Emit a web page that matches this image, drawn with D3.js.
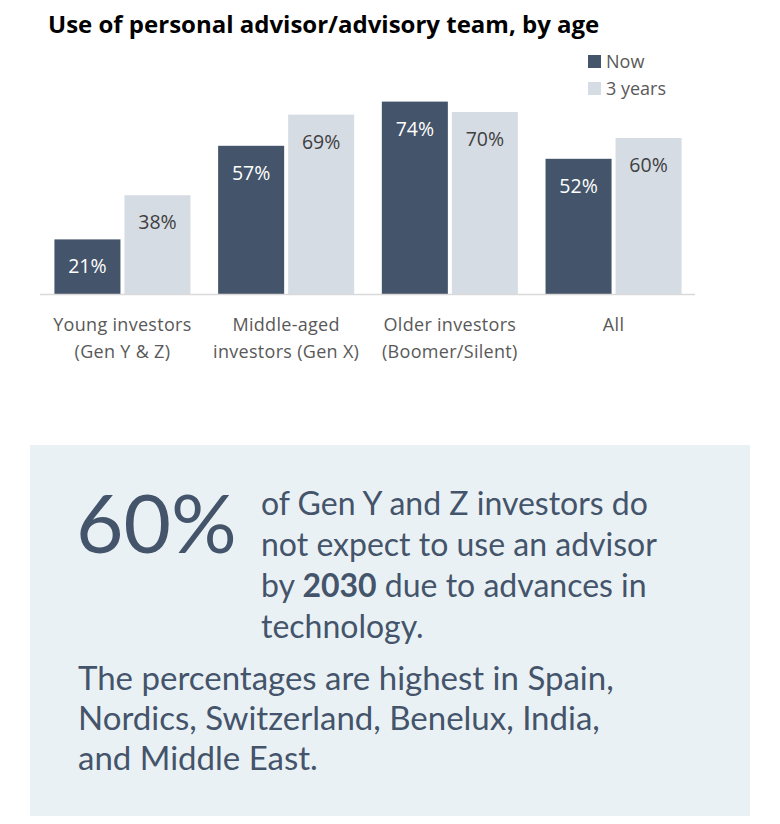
<!DOCTYPE html>
<html>
<head>
<meta charset="utf-8">
<script src="https://cdn.jsdelivr.net/npm/d3@7"></script>
<style>
  body { margin: 0; background: #ffffff; }
</style>
</head>
<body>
<div id="canvas"></div>
<script>
"use strict"

// DATA
let categories = ["Young investors (Gen Y & Z)", "Middle-aged investors (Gen X)", "Older investors (Boomer/Silent)", "All"]
let categoryLines = [["Young investors", "(Gen Y & Z)"], ["Middle-aged", "investors (Gen X)"], ["Older investors", "(Boomer/Silent)"], ["All"]]
let series = ["Now", "3 years"]
let nowValues = [21, 57, 74, 52]
let threeYearValues = [38, 69, 70, 60]

let calloutNumber = "60%"
let calloutLines = ["of Gen Y and Z investors do", "not expect to use an advisor", "by |2030| due to advances in", "technology."]
let footLines = ["The percentages are highest in Spain,", "Nordics, Switzerland, Benelux, India,", "and Middle East."]

/* Configuration variables: drawing */
let svgWidth = 780
let svgHeight = 824

let darkColor = "#44546a"
let lightColor = "#d6dce4"
let labelFont = "'Open Sans', sans-serif"
let bodyFont = "Lato, sans-serif"

let svg = d3.select("#canvas")
  .append("svg")
  .attr("width", svgWidth)
  .attr("height", svgHeight)

svg.append("rect")
  .attr("width", svgWidth)
  .attr("height", svgHeight)
  .attr("fill", "#ffffff")

// TITLE
svg.append("text")
  .attr("x", 48)
  .attr("y", 33)
  .style("font-family", labelFont)
  .style("font-weight", "bold")
  .style("font-size", "24px")
  .attr("fill", "#000000")
  .text("Use of personal advisor/advisory team, by age")

// SCALES
let xScale = d3.scaleBand()
  .domain(categories)
  .range([41, 695])
  .paddingInner(0.169)
  .paddingOuter(0.082)

let xInner = d3.scaleBand()
  .domain(series)
  .range([0, xScale.bandwidth()])
  .paddingInner(0.057)

let yScale = d3.scaleLinear()
  .domain([0, 100])
  .range([294, 34])

let colorScale = d3.scaleOrdinal()
  .domain(series)
  .range([darkColor, lightColor])

let labelColor = d3.scaleOrdinal()
  .domain(series)
  .range(["#ffffff", "#404040"])

let rows = []
for (let i = 0; i < categories.length; i++) {
  rows.push({ cat: categories[i], s: "Now", v: nowValues[i] })
  rows.push({ cat: categories[i], s: "3 years", v: threeYearValues[i] })
}

// BARS
svg.selectAll("rect.bar")
  .data(rows)
  .join("rect")
  .attr("class", "bar")
  .attr("x", function (d) { return xScale(d.cat) + xInner(d.s) })
  .attr("y", function (d) { return yScale(d.v) })
  .attr("width", xInner.bandwidth())
  .attr("height", function (d) { return yScale(0) - yScale(d.v) })
  .attr("fill", function (d) { return colorScale(d.s) })

// VALUE LABELS
svg.selectAll("text.value")
  .data(rows)
  .join("text")
  .attr("class", "value")
  .attr("x", function (d) { return xScale(d.cat) + xInner(d.s) + xInner.bandwidth() / 2 })
  .attr("y", function (d) { return yScale(d.v) + 34 })
  .style("text-anchor", "middle")
  .style("font-family", labelFont)
  .style("font-size", "19.5px")
  .attr("fill", function (d) { return labelColor(d.s) })
  .text(function (d) { return d.v + "%" })

// AXIS LINE
svg.append("line")
  .attr("x1", 40)
  .attr("x2", 695)
  .attr("y1", yScale(0) + 0.5)
  .attr("y2", yScale(0) + 0.5)
  .attr("stroke", "#d9d9d9")
  .attr("stroke-width", 1.5)

// CATEGORY LABELS
for (let i = 0; i < categories.length; i++) {
  let t = svg.append("text")
    .attr("x", xScale(categories[i]) + xScale.bandwidth() / 2)
    .attr("y", 331)
    .style("text-anchor", "middle")
    .style("font-family", labelFont)
    .style("font-size", "18px")
    .style("letter-spacing", "0.3px")
    .attr("fill", "#595959")
  for (let j = 0; j < categoryLines[i].length; j++) {
    t.append("tspan")
      .attr("x", xScale(categories[i]) + xScale.bandwidth() / 2)
      .attr("dy", j == 0 ? 0 : 27)
      .text(categoryLines[i][j])
  }
}

// LEGEND
for (let i = 0; i < series.length; i++) {
  svg.append("rect")
    .attr("x", 588)
    .attr("y", 55 + i * 27)
    .attr("width", 13)
    .attr("height", 13)
    .attr("fill", colorScale(series[i]))
  svg.append("text")
    .attr("x", 606)
    .attr("y", 68 + i * 27)
    .style("font-family", labelFont)
    .style("font-size", "18px")
    .attr("fill", "#595959")
    .text(series[i])
}

// CALLOUT PANEL
svg.append("rect")
  .attr("x", 30)
  .attr("y", 445)
  .attr("width", 720)
  .attr("height", 371)
  .attr("fill", "#eaf1f5")

svg.append("text")
  .attr("x", 76)
  .attr("y", 553)
  .style("font-family", bodyFont)
  .style("font-size", "82px")
  .attr("fill", darkColor)
  .text(calloutNumber)

for (let i = 0; i < calloutLines.length; i++) {
  let t = svg.append("text")
    .attr("x", 261)
    .attr("y", 515 + i * 41)
    .style("font-family", bodyFont)
    .style("font-size", "32px")
    .attr("fill", darkColor)
  let parts = calloutLines[i].split("|")
  for (let j = 0; j < parts.length; j++) {
    t.append("tspan")
      .style("font-weight", j == 1 ? "bold" : "normal")
      .text(parts[j])
  }
}

for (let i = 0; i < footLines.length; i++) {
  svg.append("text")
    .attr("x", 78)
    .attr("y", 690 + i * 40)
    .style("font-family", bodyFont)
    .style("font-size", "33px")
    .attr("fill", darkColor)
    .text(footLines[i])
}
</script>
</body>
</html>
